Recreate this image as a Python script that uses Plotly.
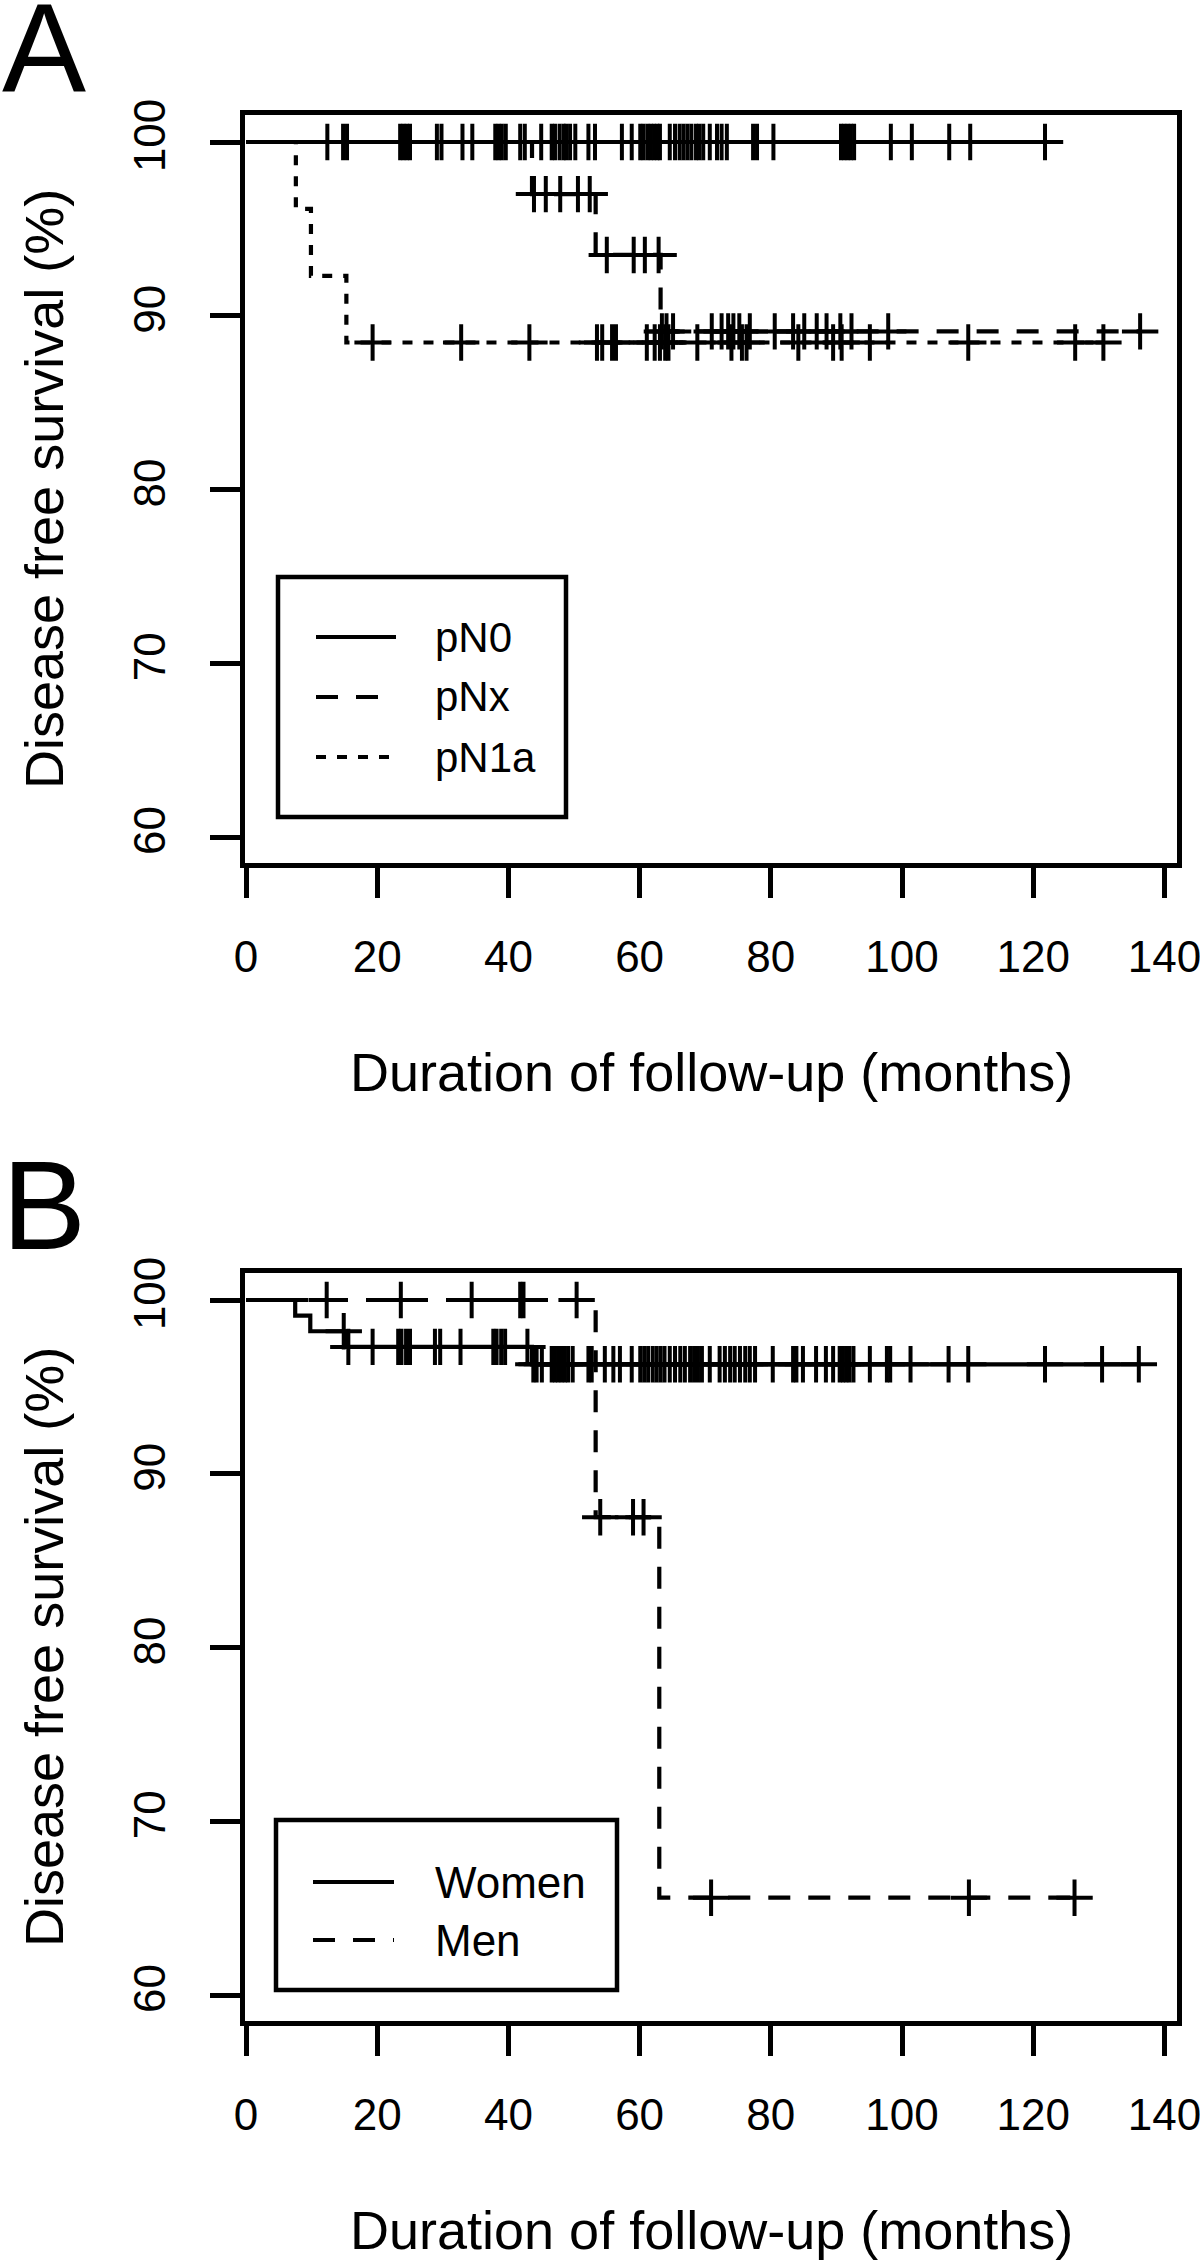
import plotly.graph_objects as go

W, H = 1200, 2268

# ---------------- Data (months, survival %) ----------------
x_ticks = [0, 20, 40, 60, 80, 100, 120, 140]
y_ticks = [60, 70, 80, 90, 100]

# Panel A
pN0_event_times = []
pN0_levels = []
pN0_censor_times = [12.4, 14.8, 15.4, 23.5, 24.0, 24.5, 25.0, 29.1, 29.8, 33.0, 34.5,
                    38.0, 38.5, 39.0, 39.6, 41.8, 42.5, 45.0, 46.6, 47.1, 47.8, 48.4,
                    48.8, 49.4, 50.2, 52.2, 53.2, 57.3, 58.8, 60.1, 60.6, 61.2, 61.7,
                    62.2, 62.7, 63.1, 64.6, 65.4, 66.1, 66.7, 67.3, 67.9, 68.6, 69.1,
                    69.7, 70.7, 71.8, 72.5, 73.3, 77.3, 77.9, 80.4, 90.7, 91.2, 91.7,
                    92.2, 92.7, 98.3, 101.5, 107.2, 110.4, 121.8]

pNx_event_times = [43.6, 53.3, 63.2]
pNx_levels = [97.0, 93.5, 89.1]
pNx_censor_times = [43.9, 45.7, 47.9, 50.6, 52.4, 55.0, 59.1, 60.8, 62.9, 63.4, 64.1,
                    65.1, 71.0, 72.5, 73.5, 74.3, 75.2, 76.8, 80.6, 83.4, 85.1, 87.0,
                    88.5, 90.6, 92.3, 97.9, 136.3]

pN1a_event_times = [7.6, 9.9, 15.3]
pN1a_levels = [96.15, 92.3, 88.46]
pN1a_censor_times = [19.3, 32.8, 43.2, 53.5, 54.3, 55.8, 56.4, 61.1, 62.3, 63.1, 63.9,
                     64.4, 68.8, 74.0, 75.6, 76.3, 84.2, 89.5, 90.8, 95.1, 110.1,
                     126.4, 130.7]

# Panel B
women_event_times = [7.5, 9.8, 15.1, 43.6]
women_levels = [99.1, 98.2, 97.3, 96.3]
women_censor_times = [14.9, 15.6, 19.3, 23.2, 23.7, 24.4, 25.0, 28.8, 29.6, 32.7, 37.7,
                      38.2, 38.9, 39.5, 42.9, 43.8, 44.3, 45.1, 46.6, 47.1, 47.6, 48.1,
                      48.6, 49.1, 49.8, 52.2, 52.7, 54.7, 56.0, 57.0, 58.8, 60.1, 60.7,
                      61.3, 62.0, 62.6, 63.2, 63.8, 64.6, 65.4, 66.2, 66.9, 67.7, 68.3,
                      68.9, 69.5, 70.7, 72.2, 73.0, 73.8, 74.5, 75.3, 76.1, 76.8, 77.6,
                      80.3, 83.4, 83.9, 84.9, 86.9, 88.4, 89.5, 90.5, 91.0, 91.5, 92.0,
                      92.6, 95.1, 97.7, 98.2, 101.3, 107.1, 110.1, 121.8, 130.5, 136.1]

men_event_times = [53.3, 63.0]
men_levels = [87.5, 65.6]
men_censor_times = [12.3, 23.6, 34.4, 41.8, 42.3, 50.4, 54.0, 59.0, 60.6, 70.9,
                    110.2, 126.3]

legend_A = ["pN0", "pNx", "pN1a"]
legend_B = ["Women", "Men"]

# ---------------- Helpers ----------------
FONT = "Liberation Sans, Arial, Helvetica, sans-serif"
LW = 4.2
DASH = "22px,18px"
DOT = "10px,11px"


def level_at(t, events, levels):
    s = 100.0
    for e, l in zip(events, levels):
        if e <= t:
            s = l
    return s


def km_traces(events, levels, censors, dash, xa, ya):
    end = max(censors)
    xs = [0] + list(events) + [end]
    ys = [100] + list(levels) + [levels[-1] if levels else 100]
    line = go.Scatter(x=xs, y=ys, mode="lines", line_shape="hv",
                      line=dict(color="black", width=LW, dash=dash),
                      showlegend=False, xaxis=xa, yaxis=ya, hoverinfo="skip")
    cy = [level_at(t, events, levels) for t in censors]
    marks = go.Scatter(x=censors, y=cy, mode="markers",
                       marker=dict(symbol="cross-thin", size=26, color="black",
                                   line=dict(width=4, color="black")),
                       showlegend=False, xaxis=xa, yaxis=ya, hoverinfo="skip")
    return [line, marks]


def px(x):
    return x / W


def py(y):
    return 1 - y / H


fig = go.Figure()
for tr in (km_traces(pN0_event_times, pN0_levels, pN0_censor_times, "solid", "x", "y")
           + km_traces(pNx_event_times, pNx_levels, pNx_censor_times, DASH, "x", "y")
           + km_traces(pN1a_event_times, pN1a_levels, pN1a_censor_times, DOT, "x", "y")
           + km_traces(women_event_times, women_levels, women_censor_times, "solid", "x2", "y2")
           + km_traces(men_event_times, men_levels, men_censor_times, DASH, "x2", "y2")):
    fig.add_trace(tr)

# Geometry (pixels)
BOX_L, BOX_R = 245, 1177
A_TOP, A_BOT = 115, 863
OFF = 1158
X0PX, XSC = 246, 6.56            # px of month 0, px per month
Y100A, YSC = 142, 17.375         # px of 100 %, px per %

x_range = [(BOX_L - X0PX) / XSC, (BOX_R - X0PX) / XSC]
y_range = [100 - (A_BOT - Y100A) / YSC, 100 + (Y100A - A_TOP) / YSC]

axis_common = dict(showline=True, mirror=True, linecolor="black", linewidth=4.5,
                   ticks="outside", ticklen=30, tickwidth=4.5, tickcolor="black",
                   showgrid=False, zeroline=False, ticklabeloverflow="allow",
                   automargin=False,
                   tickfont=dict(family=FONT, size=44, color="black"))

fig.update_layout(
    width=W, height=H, margin=dict(l=0, r=0, t=0, b=0, autoexpand=False),
    paper_bgcolor="white", plot_bgcolor="white", showlegend=False,
    xaxis=dict(domain=[px(BOX_L), px(BOX_R)], range=x_range, anchor="y",
               tickvals=x_ticks, ticklabelstandoff=21, **axis_common),
    yaxis=dict(domain=[py(A_BOT), py(A_TOP)], range=y_range, anchor="x",
               tickvals=y_ticks, tickangle=-90, ticklabelstandoff=28, **axis_common),
    xaxis2=dict(domain=[px(BOX_L), px(BOX_R)], range=x_range, anchor="y2",
                tickvals=x_ticks, ticklabelstandoff=21, **axis_common),
    yaxis2=dict(domain=[py(A_BOT + OFF), py(A_TOP + OFF)], range=y_range, anchor="x2",
                tickvals=y_ticks, tickangle=-90, ticklabelstandoff=28, **axis_common),
)

ann = []
shapes = []
for off, letter in ((0, "A"), (OFF, "B")):
    ann.append(dict(text=letter, x=px(0), y=py(47 + off), xref="paper", yref="paper",
                    xanchor="left", yanchor="middle", showarrow=False,
                    font=dict(family=FONT, size=126, color="black")))
    ann.append(dict(text="Duration of follow-up (months)", x=px(711), y=py(1072 + off),
                    xref="paper", yref="paper", xanchor="center", yanchor="middle",
                    showarrow=False, font=dict(family=FONT, size=54, color="black")))
    ann.append(dict(text="Disease free survival (%)", x=px(44), y=py(489 + off),
                    xref="paper", yref="paper", xanchor="center", yanchor="middle",
                    textangle=-90, showarrow=False,
                    font=dict(family=FONT, size=54, color="black")))

# Legend A
shapes.append(dict(type="rect", xref="paper", yref="paper", x0=px(278), x1=px(566),
                   y0=py(577), y1=py(817), line=dict(color="black", width=4.5)))
for i, (name, dash) in enumerate(zip(legend_A, ["solid", DASH, DOT])):
    yy = 637 + 60 * i
    shapes.append(dict(type="line", xref="paper", yref="paper", x0=px(316), x1=px(396),
                       y0=py(yy), y1=py(yy), line=dict(color="black", width=LW, dash=dash)))
    ann.append(dict(text=name, x=px(433), y=py(yy), xref="paper", yref="paper",
                    xanchor="left", yanchor="middle", showarrow=False,
                    font=dict(family=FONT, size=42, color="black")))

# Legend B
shapes.append(dict(type="rect", xref="paper", yref="paper", x0=px(276), x1=px(617),
                   y0=py(1820), y1=py(1990), line=dict(color="black", width=4.5)))
for i, (name, dash) in enumerate(zip(legend_B, ["solid", DASH])):
    yy = 1882 + 58 * i
    shapes.append(dict(type="line", xref="paper", yref="paper", x0=px(313), x1=px(394),
                       y0=py(yy), y1=py(yy), line=dict(color="black", width=LW, dash=dash)))
    ann.append(dict(text=name, x=px(433), y=py(yy), xref="paper", yref="paper",
                    xanchor="left", yanchor="middle", showarrow=False,
                    font=dict(family=FONT, size=44, color="black")))

fig.update_layout(annotations=ann, shapes=shapes)

fig.write_html("out.html", config={"displayModeBar": False},
               post_script="document.body.style.margin='0';")
